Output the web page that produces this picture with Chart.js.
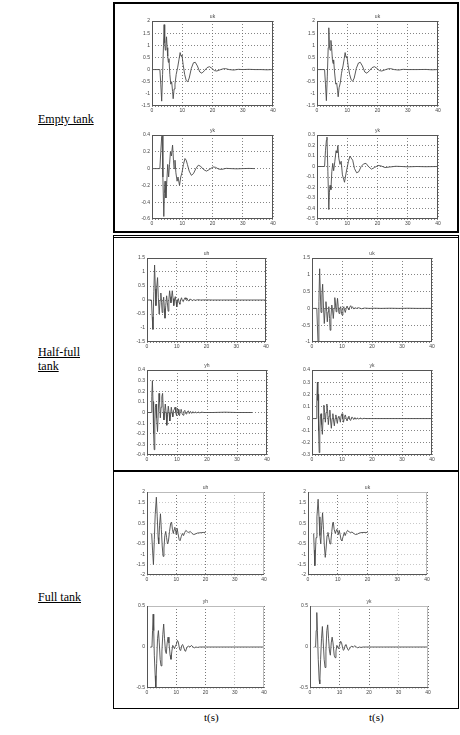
<!DOCTYPE html>
<html>
<head>
<meta charset="utf-8">
<script src="https://cdn.jsdelivr.net/npm/chart.js@4/dist/chart.umd.min.js"></script>
<style>
  html, body { margin: 0; padding: 0; background: #fff; }
  body { width: 460px; height: 735px; position: relative; overflow: hidden; font-family: "Liberation Serif", "Times New Roman", Times, serif; font-weight: 400; }
  .lbl { position: absolute; font-size: 12px; color: #000; text-decoration: underline; line-height: 14px; }
  .tlab { position: absolute; font-size: 11px; color: #000; }
  .box { position: absolute; box-sizing: border-box; border: 1.5px solid #000; }
  canvas.plot { position: absolute; }
</style>
</head>
<body>

<div class="box" style="left:113px; top:2px; width:346px; height:231px; border-width:2px;"></div>
<div class="box" style="left:113px; top:235px; width:346px; height:237px; border-top:3px double #000;"></div>
<div class="box" style="left:113px; top:470px; width:346px; height:239px; border-top-width:2px;"></div>

<div class="lbl" style="left:38px; top:112px;">Empty tank</div>
<div class="lbl" style="left:38px; top:345px;">Half-full<br>tank</div>
<div class="lbl" style="left:38px; top:590px;">Full tank</div>
<div class="tlab" style="left:204px; top:711px;">t(s)</div>
<div class="tlab" style="left:369px; top:711px;">t(s)</div>

<script>
// Time axis ticks shared by every panel (seconds)
const xTicks = [0, 10, 20, 30, 40];

// Value-axis ticks per panel
const yTicksEmptyU = [-1.5, -1, -0.5, 0, 0.5, 1, 1.5, 2];
const yTicksEmptyY1 = [-0.6, -0.4, -0.2, 0, 0.2, 0.4];
const yTicksEmptyY2 = [-0.5, -0.4, -0.3, -0.2, -0.1, 0, 0.1, 0.2, 0.3];
const yTicksHalfU1 = [-1.5, -1, -0.5, 0, 0.5, 1, 1.5];
const yTicksHalfU2 = [-1, -0.5, 0, 0.5, 1, 1.5];
const yTicksHalfY1 = [-0.4, -0.3, -0.2, -0.1, 0, 0.1, 0.2, 0.3, 0.4];
const yTicksHalfY2 = [-0.3, -0.2, -0.1, 0, 0.1, 0.2, 0.3, 0.4];
const yTicksFullU = [-2, -1.5, -1, -0.5, 0, 0.5, 1, 1.5, 2];
const yTicksFullY = [-0.5, 0, 0.5];

// Panel titles
const titlesEmpty = ["uk", "uk", "yk", "yk"];
const titlesHalf = ["uh", "uk", "yh", "yk"];
const titlesFull = ["uh", "uk", "yh", "yk"];

// Responses as [t, value] samples
const emptyU1 = [[0,0],[2.6,0],[2.9,-0.6],[3.2,-1.3],[3.5,-0.2],[3.8,1.0],[4.0,1.85],[4.2,1.1],[4.4,0.8],[4.6,1.0],[4.8,1.35],[5.0,0.9],[5.2,0.55],[5.4,0.3],[5.6,0.45],[5.9,-0.2],[6.2,-0.6],[6.5,-0.5],[6.8,-0.9],[7.0,-1.2],[7.3,-0.8],[7.6,-0.6],[8.0,-0.2],[8.5,0.1],[8.9,0.4],[9.3,0.7],[9.6,0.55],[9.9,0.6],[10.3,0.2],[10.8,-0.2],[11.3,-0.45],[11.8,-0.5],[12.3,-0.35],[13.0,0.05],[13.7,0.28],[14.3,0.3],[15.0,0.15],[15.8,-0.1],[16.5,-0.15],[17.3,-0.05],[18.2,0.08],[19.0,0.12],[19.8,0.05],[20.6,-0.04],[21.4,-0.06],[22.5,-0.01],[23.5,0.03],[24.3,0.04],[25.5,0.0],[27,-0.02],[28.5,0.01],[30,0],[32,0.01],[34,0],[36,0],[38,-0.01],[40,0]];
const emptyU2 = [[0,0],[2.5,0],[2.8,-0.6],[3.1,-1.28],[3.4,-0.3],[3.7,0.9],[3.9,1.72],[4.1,1.0],[4.3,0.8],[4.6,1.2],[4.8,0.95],[5.1,0.4],[5.3,0.25],[5.5,0.4],[5.8,-0.1],[6.2,-0.6],[6.5,-0.55],[6.8,-0.85],[7.0,-1.12],[7.3,-0.75],[7.7,-0.55],[8.1,-0.15],[8.6,0.15],[9.0,0.45],[9.3,0.7],[9.6,0.5],[9.9,0.55],[10.3,0.15],[10.8,-0.2],[11.3,-0.42],[11.8,-0.48],[12.3,-0.35],[13.0,0.05],[13.7,0.27],[14.3,0.3],[15.0,0.15],[15.8,-0.1],[16.5,-0.15],[17.3,-0.05],[18.2,0.08],[19.0,0.12],[19.8,0.05],[20.6,-0.04],[21.4,-0.06],[22.5,-0.01],[23.5,0.03],[24.3,0.04],[25.5,0],[27,-0.02],[28.5,0.01],[30,0],[33,0],[36,0.005],[38,-0.01],[40,0]];
const emptyY1 = [[0,0],[2.6,0],[2.9,0.2],[3.2,0.38],[3.35,0.4],[3.6,-0.1],[3.9,-0.57],[4.1,-0.3],[4.3,-0.15],[4.6,-0.35],[4.9,-0.15],[5.2,0.05],[5.5,-0.1],[5.8,0.05],[6.1,0.2],[6.4,0.15],[6.8,0.28],[7.1,0.1],[7.3,0],[7.6,0.1],[7.9,-0.05],[8.3,-0.15],[8.6,-0.1],[9.1,-0.2],[9.5,-0.1],[9.9,-0.05],[10.4,0.05],[10.9,0.12],[11.3,0.1],[11.7,0.05],[12.3,-0.03],[13.0,-0.08],[13.7,-0.06],[14.5,0.0],[15.3,0.04],[16.0,0.03],[17.0,-0.01],[18.0,-0.03],[19.0,-0.01],[20.2,0.02],[21.0,0.015],[22.0,-0.005],[23.0,-0.01],[24.5,0.003],[26,0],[28,-0.003],[30,0],[32,0.002],[34,0]];
const emptyY2 = [[0,0],[2.5,0],[2.8,0.15],[3.1,0.25],[3.3,0.28],[3.6,-0.05],[3.9,-0.41],[4.1,-0.25],[4.3,-0.18],[4.6,-0.22],[4.9,-0.05],[5.2,0.03],[5.5,-0.04],[5.9,0.05],[6.3,0.15],[6.6,0.13],[6.9,0.2],[7.2,0.08],[7.6,0.02],[8.0,0.05],[8.4,-0.08],[8.8,-0.12],[9.1,-0.15],[9.5,-0.08],[9.9,-0.02],[10.4,0.05],[10.9,0.1],[11.3,0.08],[11.8,0.06],[12.4,-0.02],[13.1,-0.06],[13.8,-0.05],[14.6,0.0],[15.4,0.025],[16.2,0.03],[17.0,0.0],[18.0,-0.025],[19.0,-0.01],[20.2,0.01],[21.2,0.005],[22.5,-0.01],[24,-0.005],[26,0.002],[28,0],[30,-0.003],[33,0],[36,-0.002],[40,0]];

const halfU1 = [[0,0],[1.5,0],[1.75,-0.6],[2.0,-1.05],[2.3,0.3],[2.55,1.25],[2.8,0.4],[3.0,-0.2],[3.3,0.5],[3.55,0.8],[3.8,0.1],[4.1,-0.5],[4.4,0.0],[4.65,0.25],[4.9,-0.1],[5.1,-0.45],[5.35,-0.1],[5.6,0.1],[5.85,-0.3],[6.05,-0.65],[6.3,-0.2],[6.6,0.15],[6.85,-0.1],[7.1,-0.4],[7.35,0.0],[7.6,0.33],[7.85,0.1],[8.05,-0.1],[8.3,0.15],[8.5,0.33],[8.75,0.05],[9.0,-0.2],[9.25,0.0],[9.5,0.12],[9.75,-0.05],[10.0,-0.25],[10.3,0.0],[10.55,0.05],[10.8,-0.1],[11.05,-0.15],[11.3,0.0],[11.6,0.08],[11.9,-0.03],[12.2,-0.06],[12.5,0.03],[12.8,0.08],[13.1,0.02],[13.4,0.07],[13.7,0.0],[14.0,-0.04],[14.4,0.03],[14.8,0.02],[15.2,-0.02],[15.7,0.01],[16.3,-0.01],[17,0.01],[18,0],[20,0.005],[22,0],[25,0],[30,0],[35,0],[40,0]];
const halfU2 = [[0,0],[1.6,0],[1.8,-0.5],[2.0,-1.0],[2.3,0.2],[2.55,1.18],[2.8,0.4],[3.0,-0.12],[3.3,0.4],[3.55,0.72],[3.8,0.1],[4.1,-0.45],[4.4,0.0],[4.65,0.2],[4.9,-0.1],[5.1,-0.4],[5.35,-0.1],[5.6,0.05],[5.85,-0.3],[6.05,-0.65],[6.3,-0.25],[6.6,0.1],[6.85,-0.05],[7.1,-0.3],[7.35,0.0],[7.6,0.32],[7.85,0.1],[8.05,-0.1],[8.3,0.1],[8.5,0.3],[8.75,0.05],[9.0,-0.15],[9.3,0.0],[9.55,0.05],[9.8,-0.1],[10.0,-0.2],[10.3,0.0],[10.6,0.05],[10.85,-0.05],[11.1,-0.12],[11.4,0.0],[11.7,0.07],[12.0,0.0],[12.3,-0.04],[12.6,0.04],[12.9,0.08],[13.2,0.02],[13.5,0.05],[13.9,-0.02],[14.3,0.02],[14.8,0.0],[15.5,0.02],[16.5,-0.01],[17.5,0.01],[19,0],[21,0.005],[23,0],[26,0.005],[29,0],[32,0.005],[35,0],[40,0]];
const halfY1 = [[0,0],[1.4,0],[1.6,0.15],[1.8,0.3],[2.0,0.1],[2.2,-0.2],[2.4,-0.35],[2.6,-0.1],[2.8,0.05],[3.0,0.08],[3.2,-0.05],[3.5,-0.18],[3.75,0.0],[4.0,0.18],[4.2,0.1],[4.45,-0.05],[4.7,0.05],[4.95,0.15],[5.2,0.18],[5.45,0.0],[5.65,-0.07],[5.9,0.02],[6.1,0.08],[6.35,0.0],[6.6,-0.12],[6.85,-0.02],[7.1,0.06],[7.35,0.0],[7.6,-0.08],[7.85,-0.02],[8.1,0.05],[8.35,0.0],[8.6,-0.04],[8.85,0.02],[9.1,0.03],[9.35,0.05],[9.6,0.0],[9.85,-0.03],[10.1,0.04],[10.35,0.03],[10.6,-0.02],[10.85,-0.03],[11.1,0.02],[11.4,0.03],[11.7,-0.01],[12.0,-0.025],[12.3,0.01],[12.6,0.02],[12.9,-0.01],[13.2,-0.015],[13.5,0.01],[13.8,0.015],[14.1,-0.01],[14.5,0.01],[14.9,-0.008],[15.3,0.008],[15.7,-0.006],[16.1,0.006],[16.6,-0.004],[17.1,0.004],[17.6,-0.003],[18.2,0.003],[19,0],[22,0],[26,0.003],[30,0],[35,0]];
const halfY2 = [[0,0],[1.4,0],[1.6,0.15],[1.8,0.3],[1.95,0.15],[2.05,0.2],[2.2,-0.1],[2.4,-0.28],[2.6,-0.1],[2.8,0.02],[3.0,0.04],[3.2,-0.05],[3.45,-0.13],[3.7,0.0],[3.95,0.11],[4.2,0.05],[4.45,-0.03],[4.7,0.05],[4.95,0.12],[5.2,0.06],[5.45,-0.05],[5.7,0.02],[5.95,0.07],[6.2,-0.02],[6.45,-0.08],[6.7,0.0],[6.95,0.04],[7.2,-0.02],[7.45,-0.06],[7.7,0.0],[7.95,0.03],[8.2,-0.01],[8.45,-0.04],[8.7,0.01],[8.95,0.02],[9.2,0.0],[9.45,-0.03],[9.7,0.02],[10.0,0.04],[10.25,0.0],[10.5,-0.03],[10.8,0.01],[11.1,0.03],[11.4,0.0],[11.7,-0.02],[12.0,0.01],[12.3,0.02],[12.6,-0.01],[12.9,-0.015],[13.2,0.01],[13.5,0.01],[13.9,-0.008],[14.3,0.008],[14.7,-0.006],[15.1,0.005],[15.6,-0.004],[16.1,0.004],[16.7,-0.003],[17.3,0.002],[18,0],[20,0],[25,0],[30,0],[35,0],[40,0]];

const fullU1 = [[1.6,0],[1.9,-0.8],[2.2,-1.5],[2.5,-0.3],[2.8,0.9],[3.2,1.75],[3.5,0.8],[3.8,-0.2],[4.0,-0.5],[4.3,0.4],[4.6,0.95],[4.9,0.2],[5.2,-0.6],[5.5,-1.1],[5.8,-0.7],[6.1,-0.1],[6.4,0.1],[6.7,-0.2],[7.0,-0.5],[7.3,-0.4],[7.7,0.1],[8.1,0.5],[8.4,0.55],[8.7,0.2],[9.0,0.0],[9.3,0.2],[9.5,0.3],[9.8,0.1],[10.0,-0.05],[10.3,0.25],[10.6,0.0],[11.0,-0.3],[11.3,-0.35],[11.7,-0.15],[12.1,0.0],[12.5,-0.1],[12.9,0.05],[13.3,0.15],[13.8,0.08],[14.3,0.05],[14.8,0.1],[15.4,0.0],[16.0,-0.05],[16.6,-0.02],[17.2,0.02],[17.8,0.03],[18.5,0.04],[19.2,0.05],[20.0,0.05]];
const fullU2 = [[1.9,0],[2.1,-0.8],[2.3,-1.55],[2.7,-0.2],[3.0,0.8],[3.4,1.65],[3.7,0.8],[4.0,-0.1],[4.3,-0.5],[4.6,0.4],[4.9,1.0],[5.2,0.2],[5.5,-0.6],[5.8,-1.15],[6.1,-0.7],[6.4,-0.1],[6.7,0.05],[7.0,-0.2],[7.4,-0.5],[7.7,-0.35],[8.0,0.1],[8.3,0.5],[8.5,0.55],[8.8,0.2],[9.2,0.0],[9.5,0.15],[9.7,0.2],[10.0,0.05],[10.2,-0.05],[10.5,0.15],[10.8,-0.05],[11.1,-0.3],[11.4,-0.35],[11.8,-0.15],[12.2,0.05],[12.5,-0.1],[12.9,0.05],[13.3,0.15],[13.8,0.08],[14.3,0.05],[14.8,0.07],[15.4,0.0],[16.0,-0.05],[16.6,-0.03],[17.2,0.02],[17.8,0.04],[18.5,0.05],[19.2,0.05],[20.0,0.05]];
const fullY1 = [[1.2,0],[1.7,0.0],[1.9,0.2],[2.1,0.4],[2.3,0.2],[2.5,-0.1],[2.8,-0.35],[3.0,-0.5],[3.3,-0.2],[3.6,0.1],[3.9,0.2],[4.2,0.05],[4.5,-0.15],[4.8,-0.23],[5.1,-0.05],[5.4,0.15],[5.7,0.28],[6.0,0.1],[6.3,-0.05],[6.6,-0.08],[6.9,0.05],[7.2,0.12],[7.5,0.05],[7.9,-0.1],[8.2,-0.15],[8.5,-0.05],[8.8,0.02],[9.1,0.0],[9.4,-0.02],[9.7,0.01],[10.0,0.03],[10.4,0.08],[10.7,0.06],[11.0,0.0],[11.3,-0.04],[11.6,-0.03],[11.9,0.02],[12.2,0.03],[12.6,-0.01],[13.0,-0.05],[13.3,-0.04],[13.7,0.0],[14.2,0.01],[14.7,0.0],[15.2,0.02],[15.7,0.0],[16.2,-0.01],[16.7,0.0],[17.3,-0.005],[18,0],[20,0],[25,0],[30,0],[35,0],[40,0]];
const fullY2 = [[1.5,0],[1.9,0.0],[2.1,0.2],[2.3,0.42],[2.5,0.2],[2.8,-0.15],[3.1,-0.4],[3.3,-0.45],[3.6,-0.15],[3.9,0.1],[4.2,0.25],[4.5,0.05],[4.8,-0.15],[5.1,-0.25],[5.4,-0.05],[5.7,0.2],[6.0,0.27],[6.3,0.1],[6.6,-0.05],[6.9,-0.1],[7.2,0.05],[7.5,0.12],[7.8,0.05],[8.2,-0.1],[8.5,-0.13],[8.8,-0.05],[9.1,0.02],[9.4,0.0],[9.7,-0.02],[10.0,0.02],[10.4,0.07],[10.7,0.05],[11.0,0.0],[11.3,-0.04],[11.6,-0.03],[11.9,0.02],[12.2,0.03],[12.6,-0.01],[13.0,-0.04],[13.3,-0.03],[13.7,0.0],[14.2,0.01],[14.7,0.0],[15.2,0.015],[15.7,0.0],[16.2,-0.01],[16.7,0.0],[17.3,-0.005],[18,0],[20,0],[25,0],[30,0],[35,0],[40,0]];

// Panel placement: plot-area box in page pixels
const panels = [
  { area: [152, 21, 121, 85],  title: titlesEmpty[0], series: emptyU1, yTicks: yTicksEmptyU,  style: "boxed" },
  { area: [317, 21, 121, 85],  title: titlesEmpty[1], series: emptyU2, yTicks: yTicksEmptyU,  style: "boxed" },
  { area: [152, 135, 121, 84], title: titlesEmpty[2], series: emptyY1, yTicks: yTicksEmptyY1, style: "boxed" },
  { area: [317, 135, 121, 84], title: titlesEmpty[3], series: emptyY2, yTicks: yTicksEmptyY2, style: "boxed" },
  { area: [147, 258, 119, 84], title: titlesHalf[0],  series: halfU1,  yTicks: yTicksHalfU1,  style: "boxed" },
  { area: [312, 258, 120, 84], title: titlesHalf[1],  series: halfU2,  yTicks: yTicksHalfU2,  style: "boxed" },
  { area: [147, 370, 120, 85], title: titlesHalf[2],  series: halfY1,  yTicks: yTicksHalfY1,  style: "boxed" },
  { area: [312, 370, 120, 85], title: titlesHalf[3],  series: halfY2,  yTicks: yTicksHalfY2,  style: "boxed" },
  { area: [147, 492, 117, 83], title: titlesFull[0],  series: fullU1,  yTicks: yTicksFullU,   style: "light" },
  { area: [308, 492, 119, 83], title: titlesFull[1],  series: fullU2,  yTicks: yTicksFullU,   style: "light" },
  { area: [147, 606, 117, 82], title: titlesFull[2],  series: fullY1,  yTicks: yTicksFullY,   style: "light" },
  { area: [310, 606, 118, 82], title: titlesFull[3],  series: fullY2,  yTicks: yTicksFullY,   style: "light" }
];

const ML = 24, MT = 10, MR = 8, MB = 12;
const tickFont = { family: "'Liberation Sans', Arial, sans-serif", size: 5 };

// Frame plus small title drawn over each axes box
const framePlugin = {
  id: "frame",
  afterDraw(chart, args, opts) {
    const { ctx, chartArea: a } = chart;
    ctx.save();
    ctx.lineWidth = 1;
    if (opts.light) {
      ctx.strokeStyle = "#bbb";
      ctx.beginPath();
      ctx.moveTo(a.left, a.top + 0.5); ctx.lineTo(a.right, a.top + 0.5);
      ctx.moveTo(a.right - 0.5, a.top); ctx.lineTo(a.right - 0.5, a.bottom);
      ctx.stroke();
      ctx.strokeStyle = "#555";
      ctx.beginPath();
      ctx.moveTo(a.left + 0.5, a.top); ctx.lineTo(a.left + 0.5, a.bottom);
      ctx.moveTo(a.left, a.bottom - 0.5); ctx.lineTo(a.right, a.bottom - 0.5);
      ctx.stroke();
    } else {
      ctx.strokeStyle = "#555";
      ctx.strokeRect(a.left + 0.5, a.top + 0.5, a.right - a.left - 1, a.bottom - a.top - 1);
    }
    ctx.fillStyle = "#444";
    ctx.font = "5px 'Liberation Sans', Arial, sans-serif";
    ctx.textAlign = "center";
    ctx.textBaseline = "alphabetic";
    ctx.fillText(opts.title, (a.left + a.right) / 2, a.top - 3);
    ctx.restore();
  }
};

panels.forEach(p => {
  const [ax, ay, aw, ah] = p.area;
  const cv = document.createElement("canvas");
  cv.className = "plot";
  const W = aw + ML + MR, H = ah + MT + MB;
  cv.width = W; cv.height = H;
  cv.style.left = (ax - ML) + "px";
  cv.style.top = (ay - MT) + "px";
  cv.style.width = W + "px";
  cv.style.height = H + "px";
  document.body.appendChild(cv);

  const light = p.style === "light";
  const yMin = p.yTicks[0], yMax = p.yTicks[p.yTicks.length - 1];

  new Chart(cv, {
    type: "line",
    data: {
      datasets: [{
        data: p.series.map(([t, v]) => ({ x: t, y: v })),
        borderColor: "#4a4a4a",
        borderWidth: 0.9,
        pointRadius: 0,
        tension: 0,
        fill: false
      }]
    },
    options: {
      responsive: false,
      animation: false,
      devicePixelRatio: 1,
      layout: { padding: { top: MT, right: MR, left: 0, bottom: 0 } },
      plugins: {
        legend: { display: false },
        tooltip: { enabled: false },
        frame: { title: p.title, light }
      },
      scales: {
        x: {
          type: "linear",
          min: 0, max: 40,
          afterBuildTicks: s => { s.ticks = xTicks.map(v => ({ value: v })); },
          afterFit: s => { s.height = MB; },
          ticks: { font: tickFont, color: "#444", padding: 2, autoSkip: false, maxRotation: 0, callback: v => String(v) },
          grid: {
            drawTicks: false,
            color: c => light ? (c.tick && c.tick.value === 30 ? "#aaa" : "#555") : "#666",
            lineWidth: 0.8
          },
          border: { display: false, dash: [1, 2] }
        },
        y: {
          type: "linear",
          min: yMin, max: yMax,
          afterBuildTicks: s => { s.ticks = p.yTicks.map(v => ({ value: v })); },
          afterFit: s => { s.width = ML; },
          ticks: { font: tickFont, color: "#444", padding: 2, autoSkip: false, callback: v => String(v) },
          grid: {
            drawTicks: false,
            color: light ? "#bbb" : "#666",
            lineWidth: 0.8
          },
          border: { display: false, dash: [1, 2] }
        }
      }
    },
    plugins: [framePlugin]
  });
});
</script>
</body>
</html>
